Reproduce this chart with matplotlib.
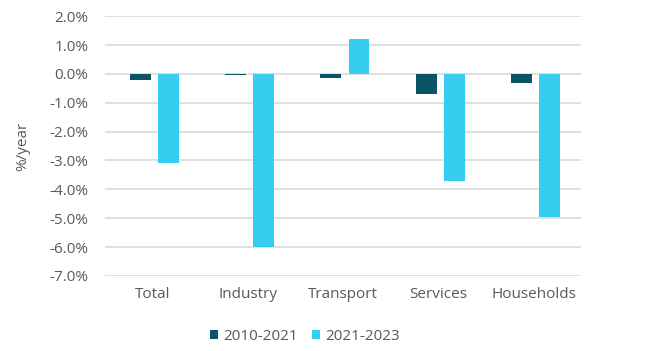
import numpy as np
import matplotlib.pyplot as plt
from matplotlib.ticker import FuncFormatter

categorias = ["Total", "Industry", "Transport", "Services", "Households"]
serie_2010_2021 = [-0.2, -0.05, -0.13, -0.7, -0.32]
serie_2021_2023 = [-3.1, -6.0, 1.2, -3.72, -4.95]
etiquetas = ["2010-2021", "2021-2023"]

plt.rcParams['font.family'] = ['Open Sans', 'DejaVu Sans']
gris = "#595959"

fig = plt.figure(figsize=(6.5, 3.51), dpi=100)
ax = fig.add_axes([0.1615, 0.214, 0.7325, 0.74])

x = np.arange(len(categorias))
ancho = 0.22
sep = 0.075
ax.bar(x - (ancho + sep) / 2 + 0.02, serie_2010_2021, ancho, color="#0B5468", label=etiquetas[0], zorder=3)
ax.bar(x + (ancho + sep) / 2 + 0.02, serie_2021_2023, ancho, color="#35CDF0", label=etiquetas[1], zorder=3)

ax.set_xlim(-0.5, len(categorias) - 0.5)
ax.set_ylim(-7, 2)
ax.set_yticks(np.arange(-7, 2.1, 1))
ax.yaxis.set_major_formatter(FuncFormatter(lambda v, p: f"{v:.1f}%"))
ax.set_xticks(x)
ax.set_xticklabels(categorias)

# grid
ax.grid(axis="y", color="#D9D9D9", linewidth=1.2, zorder=0)
for s in ax.spines.values():
    s.set_visible(False)
ax.tick_params(length=0, labelsize=11, colors=gris, pad=8)
ax.tick_params(axis="y", pad=12)
ax.set_ylabel("%/year", fontsize=11, color=gris, labelpad=14)

leg = ax.legend(loc="upper center", bbox_to_anchor=(0.42, -0.15), ncol=2, frameon=False,
                fontsize=11, handlelength=0.55, handleheight=0.55, handletextpad=0.35,
                columnspacing=0.9)
for t in leg.get_texts():
    t.set_color(gris)

plt.savefig("out.png", dpi=100)
